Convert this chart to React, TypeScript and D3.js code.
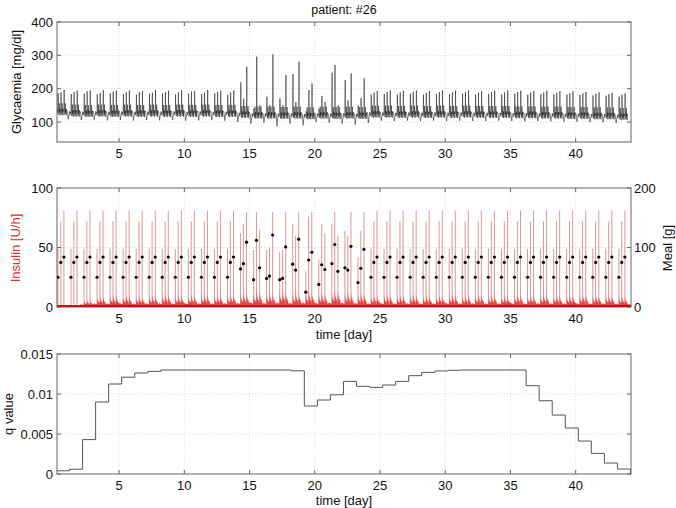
import React from 'react';
import * as d3 from 'd3';

const W = 676, H = 508;
const X0 = 57, X1 = 631;
const xDomain: [number, number] = [0.24, 44.24];
const xTicks = [5, 10, 15, 20, 25, 30, 35, 40];

const mealOffsets = [0.31, 0.53, 0.77];

// meal size [g] per day (3 meals)
const mealGrams: number[][] = [
  [50, 75, 84], [50, 75, 84], [50, 75, 84], [50, 75, 84], [50, 75, 84],
  [50, 75, 84], [50, 75, 84], [50, 75, 84], [50, 75, 84], [50, 75, 84],
  [50, 75, 84], [50, 75, 84], [50, 75, 84], [50, 75, 84],
  [64, 73, 109], [46, 112, 66], [48, 52, 121], [46, 48, 101], [72, 62, 114],
  [25, 79, 92], [38, 71, 63], [73, 105, 60], [66, 62, 102], [41, 65, 97],
  [50, 75, 84], [50, 75, 84], [50, 75, 84], [50, 75, 84], [50, 75, 84],
  [50, 75, 84], [50, 75, 84], [50, 75, 84], [50, 75, 84], [50, 75, 84],
  [50, 75, 84], [50, 75, 84], [50, 75, 84], [50, 75, 84], [50, 75, 84],
  [50, 75, 84], [50, 75, 84], [50, 75, 84], [50, 75, 84], [50, 75, 84],
];

// insulin bolus peak [U/h] per meal
const bolusRate: number[][] = [
  [49, 72, 81], [49, 72, 81], [49, 72, 81], [49, 72, 81], [49, 72, 81],
  [49, 72, 81], [49, 72, 81], [49, 72, 81], [49, 72, 81], [49, 72, 81],
  [49, 72, 81], [49, 72, 81], [49, 72, 81], [49, 72, 81],
  [62, 70, 80], [48, 80, 65], [48, 50, 80], [46, 48, 80], [70, 60, 80],
  [30, 76, 80], [40, 70, 62], [70, 80, 60], [64, 60, 80], [42, 64, 80],
  [49, 72, 81], [49, 72, 81], [49, 72, 81], [49, 72, 81], [49, 72, 81],
  [49, 72, 81], [49, 72, 81], [49, 72, 81], [49, 72, 81], [49, 72, 81],
  [49, 72, 81], [49, 72, 81], [49, 72, 81], [49, 72, 81], [49, 72, 81],
  [49, 72, 81], [49, 72, 81], [49, 72, 81], [49, 72, 81], [49, 72, 81],
];

// basal insulin level and post-meal ripple height [U/h] per day
const basalLevel = [
  1, 1, 1.8, 2.4, 2.5, 2.5, 2.4, 2.5, 2.6, 2.5, 2.5, 2.6, 2.5, 2.6,
  2.8, 3, 2.8, 3, 2.8, 3, 2.8, 3, 2.9, 2.8,
  2.5, 2.6, 2.5, 2.6, 2.5, 2.5, 2.6, 2.5, 2.6, 2.5, 2.5, 2.6, 2.5, 2.6, 2.5, 2.5, 2.6, 2.5, 2.5, 2.3,
];
const basalHump = [
  0, 0, 5, 8, 9, 9, 8, 9, 10, 9, 9, 10, 9, 10,
  11, 12, 11, 13, 11, 12, 11, 13, 12, 11,
  9, 10, 9, 10, 9, 9, 10, 9, 10, 9, 9, 10, 9, 10, 9, 9, 10, 9, 9, 8,
];
const humpShape = [0.75, 1, 0.9];
// relative shape of the insulin ripple after each meal
const rippleShape = [0.6, 1, 0.35, 0.8, 0.3, 0.65, 0.25, 0.55, 0.2, 0.45, 0.18, 0.35, 0.15, 0.3, 0.12, 0.25];

// glucose peak after each meal [mg/dl]
const glucosePeaks: number[][] = [
  [186, 189, 196], [184, 190, 194], [185, 192, 195], [183, 188, 196], [186, 191, 194],
  [184, 189, 195], [182, 190, 193], [185, 188, 196], [186, 190, 194], [183, 189, 195],
  [185, 191, 193], [184, 188, 196], [186, 190, 194], [182, 189, 195],
  [219, 170, 266], [140, 296, 150], [176, 150, 303], [171, 150, 241], [244, 160, 281],
  [130, 196, 216], [140, 178, 160], [248, 271, 150], [226, 165, 246], [150, 172, 231],
  [182, 188, 193], [184, 190, 195], [183, 189, 194], [185, 191, 195], [182, 188, 193],
  [184, 190, 195], [183, 189, 194], [185, 190, 195], [182, 188, 193], [184, 190, 194],
  [183, 189, 195], [185, 190, 194], [182, 188, 193], [184, 189, 194], [183, 188, 193],
  [182, 187, 192], [181, 186, 190], [180, 185, 189], [179, 184, 188], [176, 182, 186],
];
const dayLevel = [
  132, 128, 127, 128, 127, 128, 127, 128, 127, 128, 127, 128, 127, 127,
  124, 122, 122, 121, 122, 120, 122, 121, 122, 121,
  125, 125, 124, 125, 124, 125, 124, 125, 124, 124, 124, 123, 123, 122, 122, 121, 121, 120, 120, 118,
];
const nightTrough = [
  118, 108, 106, 107, 105, 106, 104, 106, 105, 106, 104, 105, 106, 104,
  100, 95, 98, 87, 95, 90, 100, 98, 95, 92,
  97, 104, 103, 104, 103, 104, 103, 104, 103, 103, 104, 103, 102, 103, 102, 101, 101, 100, 99, 97,
];
// glucose course after a meal spike, offset from the day level [mg/dl]
const glucoseWiggle = [6, -10, 4, 24, -4, 8, -12, 6];

// q value: step start days and values
const qDays = [
  0.2, 1.2, 2.2, 3.2, 4.2, 5.2, 6.2, 7.2, 8.2, 9.2, 10.2, 11.2, 12.2, 13.2, 14.2,
  15.2, 16.2, 17.2, 18.2, 19.2, 20.2, 21.2, 22.2, 23.2, 24.2, 25.2, 26.2, 27.2, 28.2,
  29.2, 30.2, 31.2, 32.2, 33.2, 34.2, 35.2, 36.2, 37.2, 38.2, 39.2, 40.2, 41.2, 42.2, 43.2, 44.2,
];
const qValues = [
  0.0004, 0.0006, 0.0043, 0.0090, 0.01125, 0.0121, 0.01262, 0.01283, 0.0130, 0.0130,
  0.0130, 0.0130, 0.0130, 0.0130, 0.0130, 0.0130, 0.0130, 0.0130, 0.0129, 0.0085,
  0.00925, 0.0099, 0.01158, 0.01096, 0.01083, 0.01112, 0.01158, 0.01229, 0.0127, 0.01288,
  0.01296, 0.0130, 0.0130, 0.0130, 0.0130, 0.0130, 0.01104, 0.00916, 0.00737, 0.00575,
  0.00412, 0.00258, 0.00137, 0.00062, 0.0,
];

const FONT = "'Liberation Sans', Arial, Helvetica, sans-serif";
const FS = 13;

type Scale = d3.ScaleLinear<number, number>;

export default function App() {
  const x = d3.scaleLinear().domain(xDomain).range([X0, X1]);
  const yG = d3.scaleLinear().domain([40, 400]).range([142, 22]);
  const yI = d3.scaleLinear().domain([0, 100]).range([307, 188]);
  const yM = d3.scaleLinear().domain([0, 200]).range([307, 188]);
  const yQ = d3.scaleLinear().domain([0, 0.015]).range([474, 354]);

  // glucose trace from read peaks / levels
  const gPts: [number, number][] = [[0.24, 145]];
  for (let d = 0; d < 44; d++) {
    const L = dayLevel[d], T = nightTrough[d];
    const night: [number, number][] = [
      [d + 0.03, L + 4], [d + 0.06, L - 4], [d + 0.1, T], [d + 0.13, T + 10],
      [d + 0.17, L - 8], [d + 0.21, L + 4], [d + 0.25, L - 6], [d + 0.28, L + 2],
    ];
    night.forEach(p => { if (p[0] > 0.245) gPts.push(p); });
    mealOffsets.forEach((o, m) => {
      const t = d + o, P = glucosePeaks[d][m];
      gPts.push([t, L], [t + 0.012, (L + P) / 2], [t + 0.02, P], [t + 0.03, L + 12]);
      glucoseWiggle.forEach((w, k) => gPts.push([t + 0.05 + k * 0.02, L + w]));
    });
    gPts.push([d + 0.97, L + 4]);
  }
  const gLine = d3.line<[number, number]>().x(p => x(p[0])).y(p => yG(p[1]));

  // insulin basal area
  const iPts: [number, number][] = [[0.24, 1]];
  for (let d = 0; d < 44; d++) {
    const B = basalLevel[d];
    iPts.push([d + 0.02, B], [d + 0.1, B * 1.3], [d + 0.2, B]);
    mealOffsets.forEach((o, m) => {
      const t = d + o;
      const h = basalHump[d] * humpShape[m];
      iPts.push([t - 0.004, B]);
      rippleShape.forEach((r, k) => iPts.push([t + k * 0.013, Math.max(B, B + h * r)]));
      iPts.push([t + 0.21, B]);
    });
  }
  iPts.push([44.24, 2.3]);
  const iArea = d3.area<[number, number]>().x(p => x(p[0])).y0(yI(0)).y1(p => yI(p[1]));

  const qPts: [number, number][] = qDays.map((t, i) => [t, qValues[i]]);
  const qLine = d3.line<[number, number]>().x(p => x(p[0])).y(p => yQ(p[1])).curve(d3.curveStepAfter);

  const boluses: { t: number; v: number }[] = [];
  const meals: { t: number; v: number }[] = [];
  for (let d = 0; d < 44; d++) {
    mealOffsets.forEach((o, m) => {
      boluses.push({ t: d + o, v: bolusRate[d][m] });
      meals.push({ t: d + o, v: mealGrams[d][m] });
    });
  }

  const panel = (
    key: string, y: Scale, top: number, bottom: number,
    leftTicks: number[], leftFmt: (v: number) => string,
    gridYs: number[],
  ) => (
    <g key={key}>
      {xTicks.map(t => (
        <line key={'gx' + t} x1={x(t)} x2={x(t)} y1={top} y2={bottom} stroke="#d0d0d0" strokeWidth={0.7} strokeDasharray="1,2" />
      ))}
      {gridYs.map(v => (
        <line key={'gy' + v} x1={X0} x2={X1} y1={y(v)} y2={y(v)} stroke="#d0d0d0" strokeWidth={0.7} strokeDasharray="1,2" />
      ))}
      <rect x={X0} y={top} width={X1 - X0} height={bottom - top} fill="none" stroke="#666" strokeWidth={1} />
      {xTicks.map(t => (
        <g key={'tx' + t}>
          <line x1={x(t)} x2={x(t)} y1={bottom} y2={bottom - 4} stroke="#666" />
          <line x1={x(t)} x2={x(t)} y1={top} y2={top + 4} stroke="#666" />
          <text x={x(t)} y={bottom + 16} textAnchor="middle" fontSize={FS} fontFamily={FONT} fill="#111">{t}</text>
        </g>
      ))}
      {leftTicks.map(v => (
        <g key={'ty' + v}>
          <line x1={X0} x2={X0 + 4} y1={y(v)} y2={y(v)} stroke="#666" />
          <line x1={X1} x2={X1 - 4} y1={y(v)} y2={y(v)} stroke="#666" />
          <text x={53} y={y(v) + 4.5} textAnchor="end" fontSize={FS} fontFamily={FONT} fill="#111">{leftFmt(v)}</text>
        </g>
      ))}
    </g>
  );

  return (
    <svg width={W} height={H} style={{ position: 'absolute', left: 0, top: 0, background: '#fff' }}>
      <defs>
        <clipPath id="c1"><rect x={X0} y={22} width={X1 - X0} height={120} /></clipPath>
        <clipPath id="c2"><rect x={X0} y={188} width={X1 - X0} height={119} /></clipPath>
        <clipPath id="c3"><rect x={X0} y={354} width={X1 - X0} height={120} /></clipPath>
      </defs>
      <rect width={W} height={H} fill="#fff" />
      <text x={344} y={14} textAnchor="middle" fontSize={12.5} fontFamily={FONT} fill="#111">patient: #26</text>

      {/* Top panel */}
      {panel('p1', yG, 22, 142, [100, 200, 300, 400], v => String(v), [100, 200, 300])}
      <path d={gLine(gPts) || ''} fill="none" stroke="#2a2a2a" strokeWidth={0.6} clipPath="url(#c1)" />
      <text transform={`translate(21,82) rotate(-90)`} textAnchor="middle" fontSize={13} fontFamily={FONT} fill="#111">Glycaemia [mg/dl]</text>

      {/* Middle panel */}
      {panel('p2', yI, 188, 307, [0, 50, 100], v => String(v), [50])}
      <g clipPath="url(#c2)">
        {boluses.map((b, i) => (
          <line key={'b' + i} x1={x(b.t)} x2={x(b.t)} y1={yI(0)} y2={yI(b.v)} stroke="#b83232" strokeOpacity={0.5} strokeWidth={1} />
        ))}
        <path d={iArea(iPts) || ''} fill="#e3262b" fillOpacity={0.85} />
        <line x1={X0} x2={X1} y1={yI(0) - 1} y2={yI(0) - 1} stroke="#c81010" strokeWidth={2} />
        {meals.map((m, i) => (
          <circle key={'m' + i} cx={x(m.t)} cy={yM(m.v)} r={1.6} fill="#000" />
        ))}
      </g>
      {[0, 100, 200].map(v => (
        <text key={'r' + v} x={634} y={yM(v) + 4.5} textAnchor="start" fontSize={FS} fontFamily={FONT} fill="#111">{v}</text>
      ))}
      <text transform={`translate(20,248) rotate(-90)`} textAnchor="middle" fontSize={13} fontFamily={FONT} fill="#d62f2f">Insulin  [U/h]</text>
      <text transform={`translate(672,248) rotate(-90)`} textAnchor="middle" fontSize={13} fontFamily={FONT} fill="#111">Meal [g]</text>
      <text x={344} y={339} textAnchor="middle" fontSize={13} fontFamily={FONT} fill="#111">time [day]</text>

      {/* Bottom panel */}
      {panel('p3', yQ, 354, 474, [0, 0.005, 0.01, 0.015], v => (v === 0 ? '0' : String(+v.toFixed(3))), [0.005, 0.01])}
      <path d={qLine(qPts) || ''} fill="none" stroke="#555" strokeWidth={1} clipPath="url(#c3)" />
      <text transform={`translate(13,414) rotate(-90)`} textAnchor="middle" fontSize={13} fontFamily={FONT} fill="#111">q value</text>
      <text x={344} y={505} textAnchor="middle" fontSize={13} fontFamily={FONT} fill="#111">time [day]</text>
    </svg>
  );
}
